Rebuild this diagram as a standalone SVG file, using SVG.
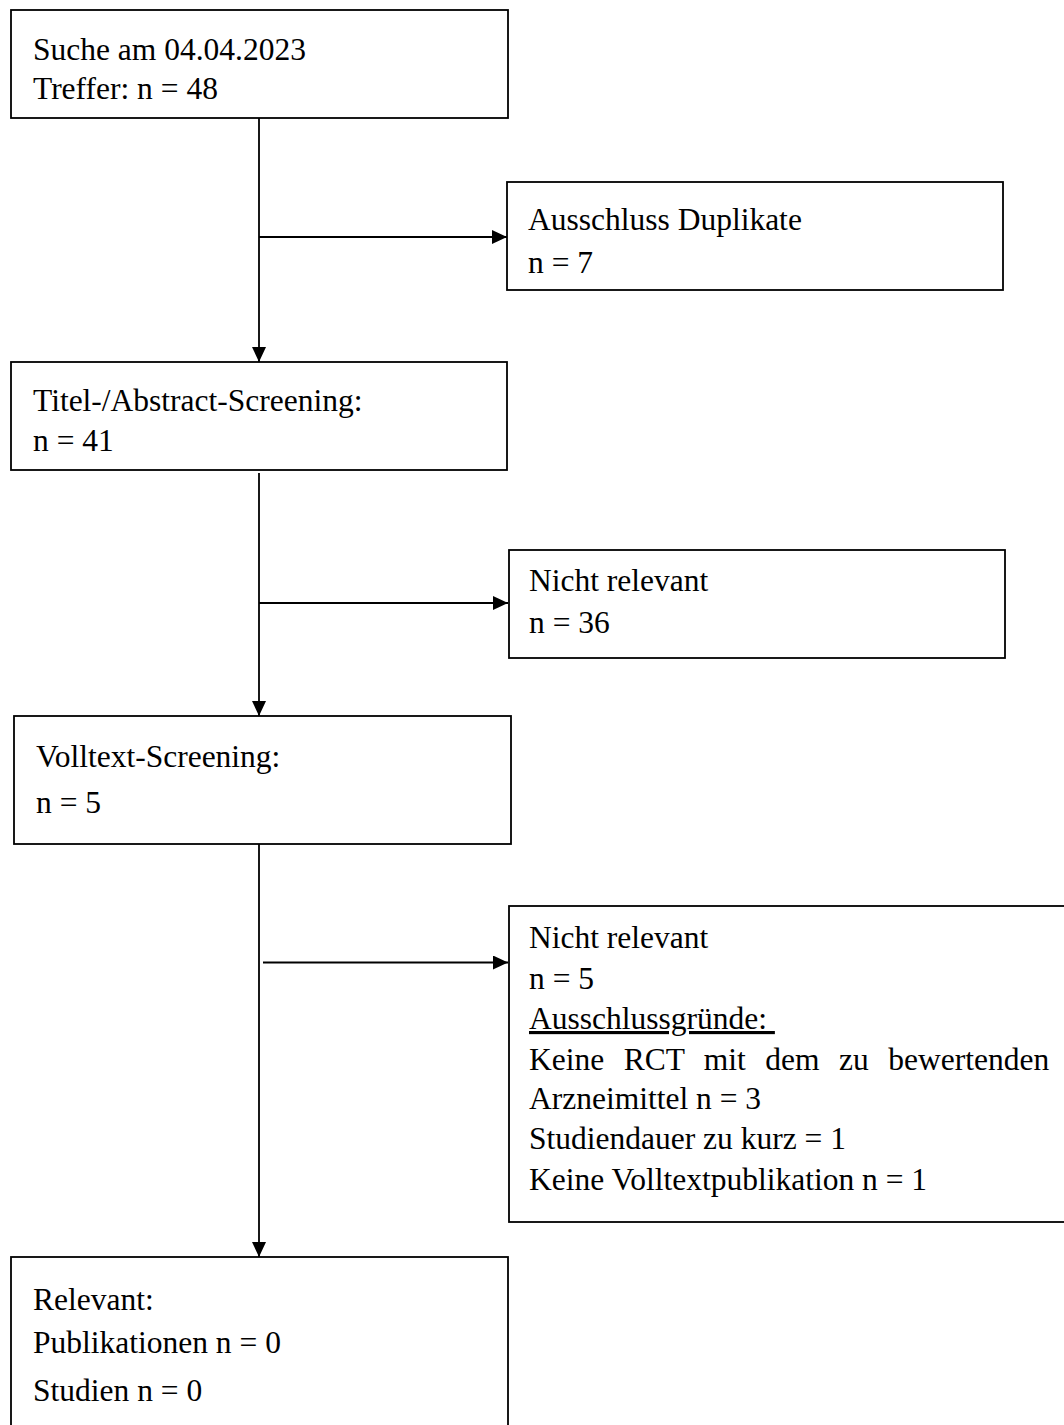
<svg xmlns="http://www.w3.org/2000/svg" width="1064" height="1425" viewBox="0 0 1064 1425">
<defs>
<style>
.box{fill:#fff;stroke:#000;stroke-width:1.8}
.t{font-family:"Liberation Serif","Times New Roman",serif;font-size:31.5px;fill:#000}
.c{stroke:#000;stroke-width:1.8;fill:none}
</style>
<marker id="ah" viewBox="0 0 15 14" refX="15" refY="7" markerWidth="15" markerHeight="14" markerUnits="userSpaceOnUse" orient="auto">
<path d="M0,0 L15,7 L0,14 Z" fill="#000"/>
</marker>
</defs>
<rect width="1064" height="1425" fill="#fff"/>
<g id="connectors">
<line class="c" x1="259" y1="118" x2="259" y2="362" marker-end="url(#ah)"/>
<line class="c" x1="259" y1="237" x2="507" y2="237" marker-end="url(#ah)"/>
<line class="c" x1="259" y1="473" x2="259" y2="716" marker-end="url(#ah)"/>
<line class="c" x1="259" y1="603" x2="508" y2="603" marker-end="url(#ah)"/>
<line class="c" x1="259" y1="844" x2="259" y2="1257" marker-end="url(#ah)"/>
<line class="c" x1="263" y1="962.5" x2="508" y2="962.5" marker-end="url(#ah)"/>
</g>
<g id="node-suche">
<rect class="box" x="11" y="10" width="497" height="108"/>
<text class="t" x="33" y="60">Suche am 04.04.2023</text>
<text class="t" x="33" y="99">Treffer: n = 48</text>
</g>
<g id="node-duplikate">
<rect class="box" x="507" y="182" width="496" height="108"/>
<text class="t" x="528" y="230">Ausschluss Duplikate</text>
<text class="t" x="528" y="273">n = 7</text>
</g>
<g id="node-titel">
<rect class="box" x="11" y="362" width="496" height="108"/>
<text class="t" x="33" y="411">Titel-/Abstract-Screening:</text>
<text class="t" x="33" y="451">n = 41</text>
</g>
<g id="node-nicht-relevant-1">
<rect class="box" x="509" y="550" width="496" height="108"/>
<text class="t" x="529" y="591">Nicht relevant</text>
<text class="t" x="529" y="633">n = 36</text>
</g>
<g id="node-volltext">
<rect class="box" x="14" y="716" width="497" height="128"/>
<text class="t" x="36" y="767">Volltext-Screening:</text>
<text class="t" x="36" y="813">n = 5</text>
</g>
<g id="node-nicht-relevant-2">
<rect class="box" x="509" y="906" width="580" height="316"/>
<text class="t" x="529" y="948">Nicht relevant</text>
<text class="t" x="529" y="989">n = 5</text>
<text class="t" x="529" y="1029" style="white-space:pre;text-decoration:underline">Ausschlussgründe: </text>
<text class="t" x="529" y="1070" word-spacing="11.6">Keine RCT mit dem zu bewertenden</text>
<text class="t" x="529" y="1109">Arzneimittel n = 3</text>
<text class="t" x="529" y="1149">Studiendauer zu kurz = 1</text>
<text class="t" x="529" y="1190">Keine Volltextpublikation n = 1</text>
</g>
<g id="node-relevant">
<rect class="box" x="11" y="1257" width="497" height="200"/>
<text class="t" x="33" y="1310">Relevant:</text>
<text class="t" x="33" y="1353">Publikationen n = 0</text>
<text class="t" x="33" y="1401">Studien n = 0</text>
</g>
</svg>
